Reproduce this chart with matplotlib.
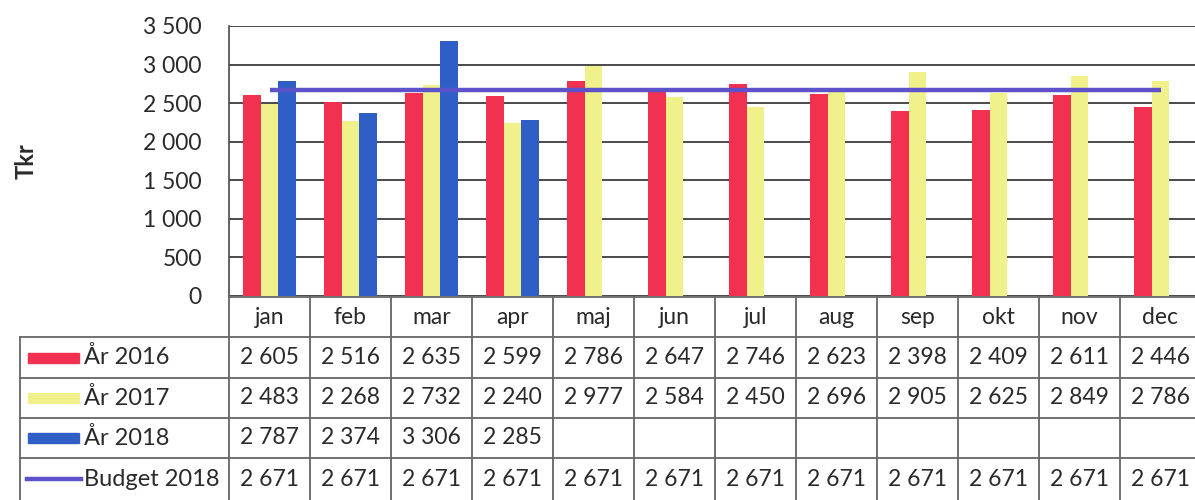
import numpy as np
import matplotlib
matplotlib.use("Agg")
import matplotlib.pyplot as plt

months = ["jan", "feb", "mar", "apr", "maj", "jun", "jul", "aug", "sep", "okt", "nov", "dec"]
y2016 = [2605, 2516, 2635, 2599, 2786, 2647, 2746, 2623, 2398, 2409, 2611, 2446]
y2017 = [2483, 2268, 2732, 2240, 2977, 2584, 2450, 2696, 2905, 2625, 2849, 2786]
y2018 = [2787, 2374, 3306, 2285, None, None, None, None, None, None, None, None]
budget = [2671] * 12
series_names = ["År 2016", "År 2017", "År 2018", "Budget 2018"]
yticks = [0, 500, 1000, 1500, 2000, 2500, 3000, 3500]

c16 = "#f2304f"
c17 = "#f1f18c"
c18 = "#2f5fc6"
cbud = "#5d52c9"
gridc = "#4a4a4a"
txtc = "#2a2a2a"
FONT = "Lato"
FS = 16.5

W, H = 1195, 500
fig = plt.figure(figsize=(W / 100, H / 100), dpi=100)

# pixel geometry
x0, colw = 229, 81
ytop, y0 = 26, 296
x1 = x0 + 12 * colw

ax = fig.add_axes([x0 / W, (H - y0) / H, (x1 - x0) / W, (y0 - ytop) / H])
ax.set_xlim(-0.5, 11.5)
ax.set_ylim(0, 3500)
x = np.arange(12)
bw = 0.22
h18 = [np.nan if v is None else v for v in y2018]
ax.bar(x - bw, y2016, bw, color=c16, zorder=3)
ax.bar(x, y2017, bw, color=c17, zorder=3)
ax.bar(x + bw, h18, bw, color=c18, zorder=3)
ax.plot(x, budget, color=cbud, lw=3.2, zorder=4, solid_capstyle="butt")
ax.set_yticks(yticks)
ax.set_yticklabels([f"{v:,}".replace(",", " ") for v in yticks], fontsize=FS,
                   family=FONT, color=txtc)
ax.tick_params(axis="y", length=0, pad=19.5)
ax.set_xticks([])
ax.yaxis.grid(True, color=gridc, lw=1.4, zorder=0)
ax.set_axisbelow(True)
for s in ["right", "top", "bottom"]:
    ax.spines[s].set_visible(False)
ax.spines["left"].set_color(gridc)
ax.spines["left"].set_linewidth(1.2)
ax.set_ylabel("Tkr", fontsize=17, family=FONT, fontweight="bold", color=txtc,
              labelpad=0)
ax.yaxis.set_label_coords(-(229 - 38) / (x1 - x0), 0.5)

# table overlay in pixel coordinates
tax = fig.add_axes([0, 0, 1, 1])
tax.set_xlim(0, W)
tax.set_ylim(H, 0)
tax.axis("off")
lc = "#666666"
rows_y = [297, 337, 378, 418, 458, 500]
xl = 20
tax.plot([x0, x1], [297, 297], color=lc, lw=1.3)
for yy in rows_y[1:5]:
    tax.plot([xl, x1], [yy, yy], color=lc, lw=1.3)
tax.plot([xl, xl], [337, 500], color=lc, lw=1.3)
for i in range(13):
    xx = x0 + i * colw
    tax.plot([xx, xx], [297, 500], color=lc, lw=1.3)

def fmt(v):
    return "" if v is None else f"{v:,}".replace(",", " ")

for i, m in enumerate(months):
    cx = x0 + (i + 0.5) * colw
    tax.text(cx, (rows_y[0] + rows_y[1]) / 2, m, ha="center", va="center",
             fontsize=FS, family=FONT, color=txtc)
    for r, ser in enumerate([y2016, y2017, y2018, budget]):
        tax.text(cx, (rows_y[r + 1] + rows_y[r + 2]) / 2, fmt(ser[i]),
                 ha="center", va="center", fontsize=FS, family=FONT, color=txtc)

for r, (name, col) in enumerate(zip(series_names, [c16, c17, c18, cbud])):
    cy = (rows_y[r + 1] + rows_y[r + 2]) / 2
    if r < 3:
        tax.add_patch(plt.Rectangle((28, cy - 5), 51, 10, color=col))
    else:
        tax.plot([27, 81], [cy, cy], color=col, lw=3.2)
    tax.text(84, cy, name, ha="left", va="center", fontsize=17, family=FONT,
             color=txtc)

fig.savefig("out.png", dpi=100)
